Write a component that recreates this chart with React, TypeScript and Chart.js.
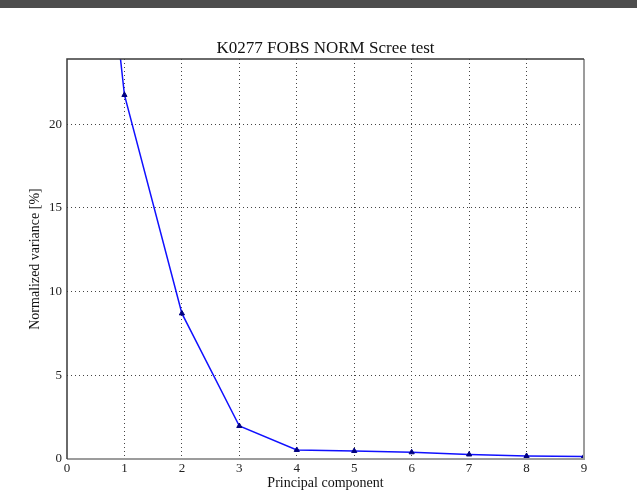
import React, { useEffect, useRef } from "react";
import { Chart, registerables } from "chart.js";

Chart.register(...registerables);

// Scree test: normalized variance per principal component
const components = [0, 1, 2, 3, 4, 5, 6, 7, 8, 9];
const variance = [53.0, 21.75, 8.7, 1.97, 0.54, 0.48, 0.4, 0.27, 0.18, 0.15];
const yTicks = [0, 5, 10, 15, 20];
const xTicks = [0, 1, 2, 3, 4, 5, 6, 7, 8, 9];
const chartTitle = "K0277 FOBS NORM Scree test";

const SERIF = "'Liberation Serif', 'Times New Roman', serif";

// Frame around the plotting area (left/top darker, bottom/right lighter)
// plus the title centred over the plotting area
const frame = {
  id: "frame",
  afterDatasetsDraw(chart: any) {
    const { ctx, chartArea: a } = chart;
    ctx.save();
    ctx.lineWidth = 2;
    ctx.strokeStyle = "#9c9c9c";
    ctx.beginPath();
    ctx.moveTo(a.left, a.bottom);
    ctx.lineTo(a.right, a.bottom);
    ctx.lineTo(a.right, a.top);
    ctx.stroke();
    ctx.lineWidth = 1.5;
    ctx.strokeStyle = "#3a3a3a";
    ctx.beginPath();
    ctx.moveTo(a.left, a.bottom);
    ctx.lineTo(a.left, a.top);
    ctx.lineTo(a.right, a.top);
    ctx.stroke();

    ctx.fillStyle = "#111";
    ctx.font = `17px ${SERIF}`;
    ctx.textAlign = "center";
    ctx.textBaseline = "alphabetic";
    ctx.fillText(chartTitle, (a.left + a.right) / 2, a.top - 6);
    ctx.restore();
  },
};

export default function App() {
  const ref = useRef<HTMLCanvasElement | null>(null);

  useEffect(() => {
    if (!ref.current) return;
    const chart = new Chart(ref.current, {
      type: "line",
      data: {
        datasets: [
          {
            data: components.map((c, i) => ({ x: c, y: variance[i] })),
            borderColor: "#1010ff",
            borderWidth: 1.5,
            pointStyle: "triangle",
            pointRadius: 3,
            pointBackgroundColor: "#000080",
            pointBorderColor: "#000080",
            pointBorderWidth: 1,
            tension: 0,
            clip: 0,
          },
        ],
      },
      options: {
        animation: false,
        responsive: false,
        events: [],
        layout: { padding: { top: 59, left: 0, right: 53, bottom: 0 } },
        plugins: {
          legend: { display: false },
          tooltip: { enabled: false },
          title: { display: false },
        },
        scales: {
          x: {
            type: "linear",
            min: 0,
            max: 9,
            afterFit: (s: any) => {
              s.height = 43;
            },
            afterBuildTicks: (s: any) => {
              s.ticks = xTicks.map((v) => ({ value: v }));
            },
            ticks: {
              color: "#222",
              font: { family: SERIF, size: 13 },
              padding: 2,
              maxRotation: 0,
              autoSkip: false,
            },
            grid: {
              drawTicks: false,
              color: (c: any) =>
                c.tick && (c.tick.value === 0 || c.tick.value === 9) ? "rgba(0,0,0,0)" : "#444",
              lineWidth: 1,
            },
            border: { display: false, dash: [1, 3] },
            title: {
              display: true,
              text: "Principal component",
              color: "#111",
              font: { family: SERIF, size: 14 },
              padding: { top: 0, bottom: 10 },
            },
          },
          y: {
            type: "linear",
            min: 0,
            max: 23.9,
            afterFit: (s: any) => {
              s.width = 67;
            },
            afterBuildTicks: (s: any) => {
              s.ticks = yTicks.map((v) => ({ value: v }));
            },
            ticks: {
              color: "#222",
              font: { family: SERIF, size: 13 },
              padding: 5,
              includeBounds: false,
            },
            grid: {
              drawTicks: false,
              color: (c: any) => (c.tick && c.tick.value === 0 ? "rgba(0,0,0,0)" : "#444"),
              lineWidth: 1,
            },
            border: { display: false, dash: [1, 3] },
            title: {
              display: true,
              text: "Normalized variance [%]",
              color: "#111",
              font: { family: SERIF, size: 14 },
              padding: { top: 27, bottom: 0 },
            },
          },
        },
      },
      plugins: [frame],
    });
    return () => chart.destroy();
  }, []);

  return (
    <div
      style={{
        position: "fixed",
        left: 0,
        top: 0,
        width: 637,
        height: 502,
        background: "#fff",
      }}
    >
      <canvas ref={ref} width={637} height={502} style={{ display: "block" }} />
      <div
        style={{
          position: "absolute",
          left: 0,
          top: 0,
          width: 637,
          height: 8,
          background: "#4d4d4d",
        }}
      />
    </div>
  );
}
